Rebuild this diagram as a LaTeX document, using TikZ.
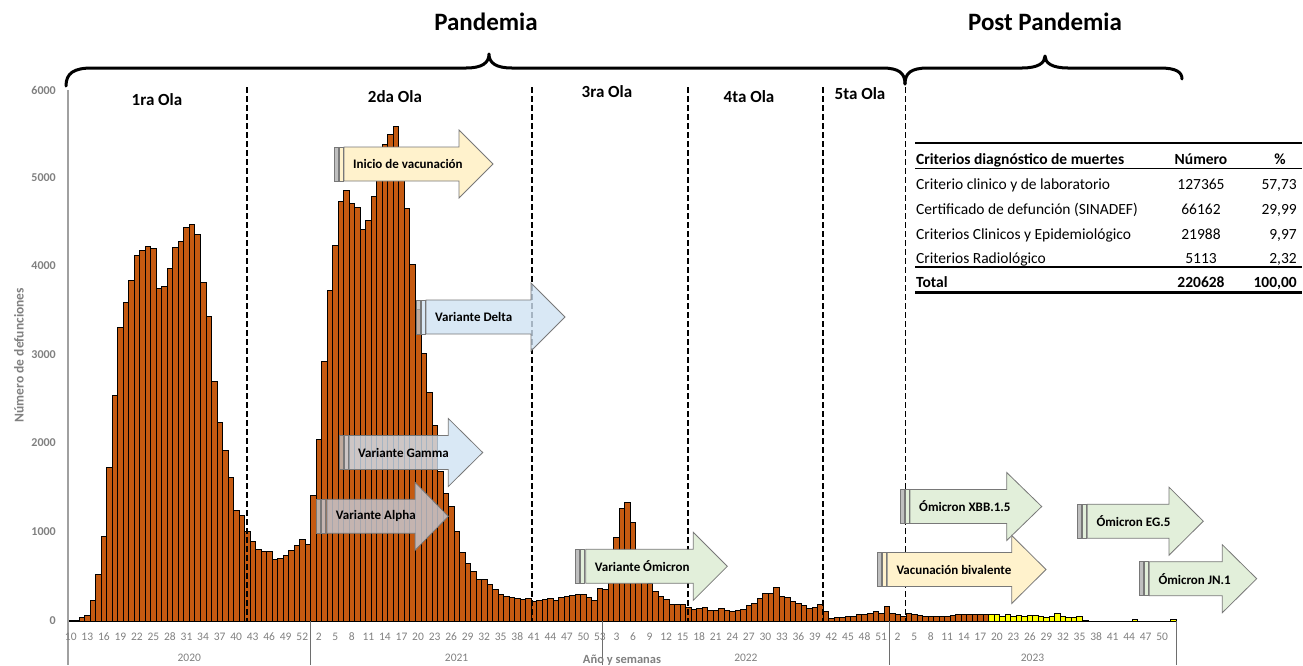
\documentclass[tikz,border=0pt]{standalone}
\usepackage{fontspec}
\setmainfont{Carlito}
\definecolor{barorange}{RGB}{197,90,17}
\definecolor{baryellow}{RGB}{255,255,0}
\definecolor{cream}{RGB}{255,242,204}
\definecolor{lblue}{RGB}{207,226,243}
\definecolor{lgreen}{RGB}{226,239,218}
\definecolor{agray}{RGB}{196,196,204}
\definecolor{axgray}{RGB}{160,160,160}
\definecolor{sepgray}{RGB}{110,110,110}
\definecolor{txtgray}{RGB}{128,128,128}
\definecolor{edgegray}{RGB}{120,120,120}
\newcommand\fsz[1]{\fontsize{#1}{#1}\selectfont}
\tikzset{
  barstyle/.style={draw=black,line width=0.6pt},
  olalab/.style={font=\fsz{17}\bfseries,inner sep=0pt},
  toplab/.style={font=\fsz{25}\bfseries,inner sep=0pt},
  ytick/.style={font=\fsz{12}\bfseries,text=txtgray,inner sep=0pt,anchor=east},
  xlab/.style={font=\fsz{11.5},text=txtgray,inner sep=0pt},
  tabtxt/.style={font=\fsz{15.5},inner sep=0pt,anchor=base west},
  tabnum/.style={font=\fsz{15.5},inner sep=0pt,anchor=base},
  tabpct/.style={font=\fsz{15.5},inner sep=0pt,anchor=base east},
  tabbold/.style={font=\fsz{15.5}\bfseries},
  arrowedge/.style={draw=edgegray,line width=0.8pt},
  arrowtext/.style={font=\fsz{13}\bfseries,inner sep=0pt,anchor=west},
  olaline/.style={black,line width=1.8pt,dash pattern=on 5.5pt off 3.5pt},
  bracestyle/.style={black,line width=3pt,line cap=round,line join=round},
}
% #1 name, #2 stripe start x, #3 neck x, #4 tip x, #5 centre y, #6 fill, #7 opacity, #8 text
\newcommand\vararrow[8]{%
  \begin{scope}[fill opacity=#7]
    \draw[arrowedge,fill=gray!50] (#2,#5-17) rectangle (#2+4,#5+17);
    \draw[arrowedge,fill=#6] (#2+5,#5-17) rectangle (#2+9,#5+17);
    \draw[arrowedge,fill=#6] (#2+10,#5-17) -- (#3,#5-17) -- (#3,#5-34) -- (#4,#5)
      -- (#3,#5+34) -- (#3,#5+17) -- (#2+10,#5+17) -- cycle;
  \end{scope}
  \node[arrowtext] (#1) at (#2+19,#5) {#8};
}
\begin{document}
\begin{tikzpicture}[x=1pt,y=-1pt]
\useasboundingbox (0,0) rectangle (1303,665);

% ---- bars
\foreach \h [count=\i from 0] in {0.7,0.7,3.3,6,20.7,47,85,154,226,294,319,341,366,371,375,373,333,335,353,374,380,394,397,387,339,305,240,199,171,144,111,106,90,80,72,70,70,62,63,66,71,76,82,77,126,182,260,331,376,420,431,418,414,392,401,425,450,477,487,495,445,413,357,312,268,229,196,150,128,115,90,69,58,50,42,42,37,32,27,25,24,23,22,23,20,21,22,23,21,24,25,26,27,27,24,21,33,32,48,84,113,119,99,66,48,38,30,25,22,17,17,17,14,12,13,14,11,11,13,11,10,11,12,16,18,23,28,28,34,25,24,20,18,16,13,14,17,10,3,4,4,5,5,7,7,8,10,8,15,8,7,5,8,7,6,5,5,5,5,5,6,7,7,7,7,7,7,7,7,5,7,5,6,5,6,6,5,4,5,8,5,4,4,5,1,0,0,0,0,0,0,0,0,1.3,0,0,0,0,0,0,1.3}{
  \pgfmathsetmacro\xa{68+5.5124*\i}
  \ifnum\i>166 \def\bc{baryellow}\else\def\bc{barorange}\fi
  \draw[barstyle,fill=\bc] (\xa,621) rectangle ({\xa+5.5124},{621-\h});
}
\draw[black,line width=0.9pt] (68,621) -- (1176,621);

% ---- axes
\draw[axgray,line width=1.2pt] (68,90) -- (68,665);
\foreach \xs in {310.5,602.7,889,1176}{\draw[sepgray,line width=0.9pt] (\xs,621) -- (\xs,665);}
\foreach \v/\yy in {0/621,1000/532,2000/443,3000/355,4000/266,5000/178,6000/90}{
  \node[ytick] (yt\v) at (56,\yy) {\v};
}
\node[font=\fsz{13.5}\bfseries,text=txtgray,rotate=90,inner sep=0pt] (ytitle) at (19,355) {Número de defunciones};

\foreach \w [count=\k from 0] in {10,13,16,19,22,25,28,31,34,37,40,43,46,49,52,2,5,8,11,14,17,20,23,26,29,32,35,38,41,44,47,50,53,3,6,9,12,15,18,21,24,27,30,33,36,39,42,45,48,51,2,5,8,11,14,17,20,23,26,29,32,35,38,41,44,47,50}{
  \node[xlab] (wk\k) at ({68+5.5124*(3*\k+0.5)},637) {\w};
}
\node[xlab] (y2020) at (189.3,658) {2020};
\node[xlab] (y2021) at (456.6,658) {2021};
\node[xlab] (y2022) at (745.9,658) {2022};
\node[xlab] (y2023) at (1032.5,658) {2023};
\node[font=\fsz{12.5}\bfseries,text=txtgray,inner sep=0pt,anchor=north] (xtitle) at (622,655) {Año y semanas};

% ---- wave separators
\foreach \xd in {247,531.7,688.3,823.3,905.5}{\draw[olaline] (\xd,87) -- (\xd,621);}

% ---- arrows
\vararrow{inicio}{334}{459}{493}{164}{cream}{1}{Inicio de vacunación}
\vararrow{delta}{416}{531}{565}{317}{lblue}{0.8}{Variante Delta}
\vararrow{gamma}{339}{448.3}{482.7}{452.5}{lblue}{0.8}{Variante Gamma}
\vararrow{alpha}{316.7}{415}{448.3}{516.3}{agray}{0.85}{Variante Alpha}
\vararrow{omicron}{575.7}{693.3}{727.3}{566.3}{lgreen}{1}{Variante Ómicron}
\vararrow{xbb}{900}{1006.7}{1041.7}{506.5}{lgreen}{1}{Ómicron XBB.1.5}
\vararrow{eg}{1077.3}{1169}{1203.3}{521.2}{lgreen}{1}{Ómicron EG.5}
\vararrow{bival}{877.3}{1011.7}{1046}{569.5}{cream}{1}{Vacunación bivalente}
\vararrow{jn}{1139.3}{1222.3}{1256.7}{578.7}{lgreen}{1}{Ómicron JN.1}

% ---- braces and top labels
\draw[bracestyle] (66,86) .. controls (66,73) and (74,68) .. (92,68) -- (466,68)
  .. controls (482,68) and (489,63) .. (489,54) .. controls (489,63) and (496,68) .. (512,68)
  -- (882,68) .. controls (899,68) and (905,73) .. (905,84);
\draw[bracestyle] (905,84) .. controls (905,73) and (911,68) .. (928,68) -- (1022,68)
  .. controls (1038,68) and (1045,63) .. (1045,56) .. controls (1045,63) and (1052,68) .. (1068,68)
  -- (1160,68) .. controls (1176,68) and (1182,72) .. (1182,79);
\node[toplab] (pand) at (486,22) {Pandemia};
\node[toplab] (post) at (1045,22) {Post Pandemia};

\node[olalab] (ola1) at (157,100) {1ra Ola};
\node[olalab] (ola2) at (395,97) {2da Ola};
\node[olalab] (ola3) at (607,92) {3ra Ola};
\node[olalab] (ola4) at (749,97) {4ta Ola};
\node[olalab] (ola5) at (860,94) {5ta Ola};

% ---- table
\draw[black,line width=2pt] (915,143.3) -- (1302,143.3);
\draw[black,line width=1pt] (915,168.5) -- (1302,168.5);
\draw[black,line width=2pt] (915,267) -- (1302,267);
\draw[black,line width=2.5pt] (915,292.7) -- (1302,292.7);
\node[tabtxt,tabbold] (th1) at (916,164.3) {Criterios diagnóstico de muertes};
\node[tabnum,tabbold] (th2) at (1201,164.3) {Número};
\node[tabnum,tabbold] (th3) at (1280,164.3) {\%};
\node[tabtxt] (r1a) at (916,189.3) {Criterio clinico y de laboratorio};
\node[tabnum] (r1b) at (1201,189.3) {127365};
\node[tabpct] (r1c) at (1297,189.3) {57,73};
\node[tabtxt] (r2a) at (916,214.3) {Certificado de defunción (SINADEF)};
\node[tabnum] (r2b) at (1201,214.3) {66162};
\node[tabpct] (r2c) at (1297,214.3) {29,99};
\node[tabtxt] (r3a) at (916,239.3) {Criterios Clinicos y Epidemiológico};
\node[tabnum] (r3b) at (1201,239.3) {21988};
\node[tabpct] (r3c) at (1297,239.3) {9,97};
\node[tabtxt] (r4a) at (916,263.3) {Criterios Radiológico};
\node[tabnum] (r4b) at (1201,263.3) {5113};
\node[tabpct] (r4c) at (1297,263.3) {2,32};
\node[tabtxt,tabbold] (tta) at (916,287.7) {Total};
\node[tabnum,tabbold] (ttb) at (1201,287.7) {220628};
\node[tabpct,tabbold] (ttc) at (1297,287.7) {100,00};
\end{tikzpicture}
\end{document}
